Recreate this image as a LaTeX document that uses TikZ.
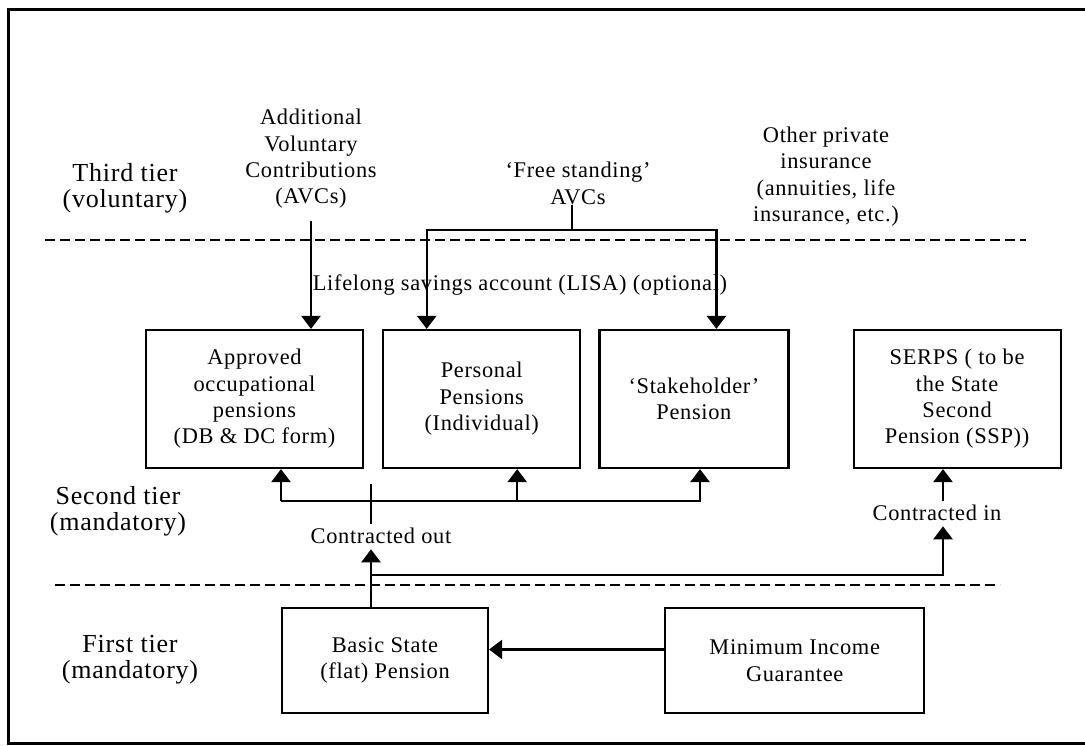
\documentclass[tikz,border=0pt]{standalone}
\usepackage{fontspec}
\setmainfont{Liberation Serif}[LetterSpace=3]
\usetikzlibrary{positioning, arrows.meta}
\newcommand{\boxfont}{\fontsize{11.2}{13.2}\selectfont}
\newcommand{\tierfont}{\fontsize{13}{13}\selectfont}
\tikzset{
    tier_box/.style={
        draw,
        line width=1.1pt,
        minimum height=69pt,
        inner sep=0pt,
        align=center,
        font=\boxfont
    },
    floor_box/.style={
        tier_box,
        minimum height=52.5pt
    },
    note_text/.style={
        align=center,
        inner sep=0pt,
        font=\boxfont
    },
    tier_label/.style={
        align=center,
        inner sep=0pt,
        font=\tierfont
    },
    flow_line/.style={
        line width=1.2pt
    },
    flow_edge/.style={
        flow_line,
        -{Triangle[length=6.5pt,width=9.5pt]}
    },
    tier_divider/.style={
        line width=1.1pt,
        dash pattern=on 5pt off 2.5pt
    }
}

\begin{document}
\begin{tikzpicture}[x=0.5pt, y=-0.5pt]
    \useasboundingbox (0,0) rectangle (1085,745);
    \draw[line width=1.5pt] (8,9) rectangle (1092,743);

    \node[tier_label] (third) at (125,188) {Third tier\\(voluntary)};
    \node[tier_label] (second) at (118,511) {Second tier\\(mandatory)};
    \node[tier_label] (first) at (130,660) {First tier\\(mandatory)};

    \draw[tier_divider] (45,240) -- (1026,240);
    \draw[tier_divider] (55,585) -- (1000,585);

    \node[note_text] (avcs) at (311,159) {Additional\\Voluntary\\Contributions\\(AVCs)};
    \node[note_text] (fsavcs) at (578,183.5) {‘Free standing’\\AVCs};
    \node[note_text] (other) at (826,176.5) {Other private\\insurance\\(annuities, life\\insurance, etc.)};
    \node[note_text] (lisa) at (520,285) {Lifelong savings account (LISA) (optional)};

    \node[tier_box, minimum width=108.5pt] (approved) at (254.5,399) {Approved\\occupational\\pensions\\(DB \& DC form)};
    \node[tier_box, minimum width=98.5pt, right=9pt of approved] (personal) {Personal\\Pensions\\(Individual)};
    \node[tier_box, minimum width=94.5pt, right=8.5pt of personal] (stake) {‘Stakeholder’\\Pension};
    \node[tier_box, minimum width=103.5pt, right=31.5pt of stake] (serps) {SERPS ( to be\\the State\\Second\\Pension (SSP))};

    \node[floor_box, minimum width=103pt] (basic) at (385,660.5) {Basic State\\(flat) Pension};
    \node[floor_box, minimum width=129.5pt, right=87.5pt of basic] (mig) {Minimum Income\\Guarantee};

    \node[note_text] (cout) at (381,536) {Contracted out};
    \node[note_text] (cin) at (937,513) {Contracted in};

    \coordinate (fs_split) at (572,230);
    \coordinate (co_top) at (371,484);
    \coordinate (bar_l) at (281,501);
    \coordinate (bar_r) at (700,501);
    \coordinate (ci_corner) at (943,575);

    \draw[flow_edge] ([yshift=-6pt]avcs.south) -- (avcs.south |- approved.north);
    \draw[flow_line] (fsavcs.south -| fs_split) -- (fs_split);
    \draw[flow_edge] (fs_split) -| ([xshift=-27.5pt]personal.north);
    \draw[flow_edge] (fs_split) -| ([xshift=11.25pt]stake.north);

    \draw[flow_edge] (bar_l) -- (bar_l |- approved.south);
    \draw[flow_edge] (bar_l) -- (bar_r) -- (bar_r |- stake.south);
    \draw[flow_edge] ([xshift=17.75pt]personal.south |- bar_l) -- ([xshift=17.75pt]personal.south);
    \draw[flow_line] (co_top) -- ([yshift=2pt]co_top |- cout.north);
    \draw[flow_edge] (co_top |- basic.north) -- ([yshift=-2.5pt]co_top |- cout.south);

    \draw[flow_edge] (co_top |- ci_corner) -- (ci_corner) -- ([yshift=-2.5pt]ci_corner |- cin.south);
    \draw[flow_edge] ([yshift=2pt]ci_corner |- cin.north) -- (ci_corner |- serps.south);

    \draw[flow_edge] ([yshift=5.5pt]mig.west) -- ([yshift=5.5pt]basic.east);
\end{tikzpicture}
\end{document}
